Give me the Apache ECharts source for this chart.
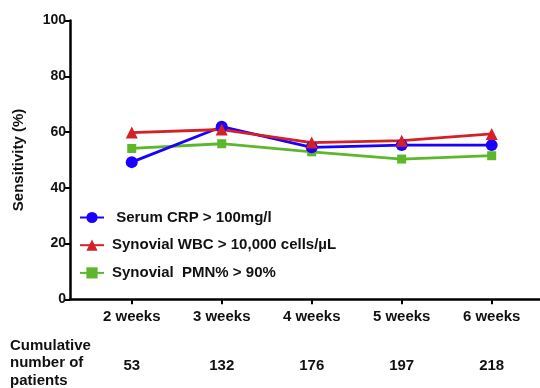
<!DOCTYPE html>
<html>
<head>
<meta charset="utf-8">
<script src="https://cdn.jsdelivr.net/npm/echarts@6/dist/echarts.min.js"></script>
<style>html,body{margin:0;padding:0;background:#fff}#c{width:540px;height:388px}</style>
</head>
<body>
<div id="c"></div>
<script>
var weeks = [2, 3, 4, 5, 6];
var weekLabels = ['2 weeks', '3 weeks', '4 weeks', '5 weeks', '6 weeks'];
var patients = ['53', '132', '176', '197', '218'];
var crp = [49.2, 61.9, 54.5, 55.3, 55.3];
var wbc = [59.8, 60.9, 56.2, 56.9, 59.3];
var pmn = [54.1, 55.8, 52.9, 50.3, 51.5];
var yTicks = [0, 20, 40, 60, 80, 100];
var seriesNames = [' Serum CRP > 100mg/l', 'Synovial WBC > 10,000 cells/\u00b5L', 'Synovial  PMN% > 90%'];

function pairs(vals) { return weeks.map(function (w, i) { return [w, vals[i]]; }); }

var FONT = 'Liberation Sans, Arial, Helvetica, sans-serif';
var chart = echarts.init(document.getElementById('c'), null, { renderer: 'canvas' });
chart.setOption({
  animation: false,
  textStyle: { fontFamily: FONT },
  grid: { left: 70, right: 0, top: 20.5, bottom: 88.7, outerBoundsMode: 'none', containLabel: false },
  legend: {
    orient: 'vertical', left: 74, top: 205, itemWidth: 24, itemHeight: 14, itemGap: 12.7,
    textStyle: { fontFamily: FONT, fontWeight: 'bold', fontSize: 15, color: '#111', padding: [0, 0, 0, 3] },
    data: seriesNames
  },
  xAxis: [{
    type: 'value', min: 1.314, max: 6.537,
    axisLine: { lineStyle: { color: '#000', width: 2.5 } },
    axisTick: { show: true, length: 5, lineStyle: { color: '#000', width: 2 }, customValues: weeks },
    axisLabel: { customValues: weeks, margin: 10, fontFamily: FONT, fontWeight: 'bold', fontSize: 15, color: '#111',
      formatter: function (v) { return weekLabels[weeks.indexOf(v)]; } },
    splitLine: { show: false }
  }, {
    type: 'value', min: 1.314, max: 6.537, position: 'bottom', offset: 51,
    axisLine: { show: false }, axisTick: { show: false },
    axisLabel: { customValues: weeks, margin: 8, fontFamily: FONT, fontWeight: 'bold', fontSize: 15, color: '#111',
      formatter: function (v) { return patients[weeks.indexOf(v)]; } },
    splitLine: { show: false }
  }],
  yAxis: {
    type: 'value', min: 0, max: 100, interval: 20,
    name: 'Sensitivity (%)', nameLocation: 'middle', nameRotate: 90, nameGap: 44,
    nameTextStyle: { fontFamily: FONT, fontWeight: 'bold', fontSize: 15, color: '#111' },
    axisLine: { show: true, lineStyle: { color: '#000', width: 2.5 } },
    axisTick: { show: true, length: 5, lineStyle: { color: '#000', width: 2 } },
    axisLabel: { margin: 4, fontFamily: FONT, fontWeight: 'bold', fontSize: 14, color: '#111',
      formatter: function (v) { return yTicks.indexOf(v) >= 0 ? String(v) : ''; } },
    splitLine: { show: false }
  },
  graphic: [{
    type: 'text', left: 10, top: 337,
    style: { text: 'Cumulative\nnumber of\npatients', font: 'bold 15px ' + FONT, fill: '#111', lineHeight: 17.5 }
  }],
  series: [
    { name: seriesNames[2], type: 'line', data: pairs(pmn), symbol: 'rect', symbolSize: 9,
      itemStyle: { color: '#5cb82a' }, lineStyle: { color: '#5cb82a', width: 2.8 } },
    { name: seriesNames[0], type: 'line', data: pairs(crp), symbol: 'circle', symbolSize: 12,
      itemStyle: { color: '#1a00ff' }, lineStyle: { color: '#1a00ff', width: 2.8 } },
    { name: seriesNames[1], type: 'line', data: pairs(wbc), symbol: 'triangle', symbolSize: 12,
      itemStyle: { color: '#d42027' }, lineStyle: { color: '#d42027', width: 2.8 } }
  ]
});
</script>
</body>
</html>
